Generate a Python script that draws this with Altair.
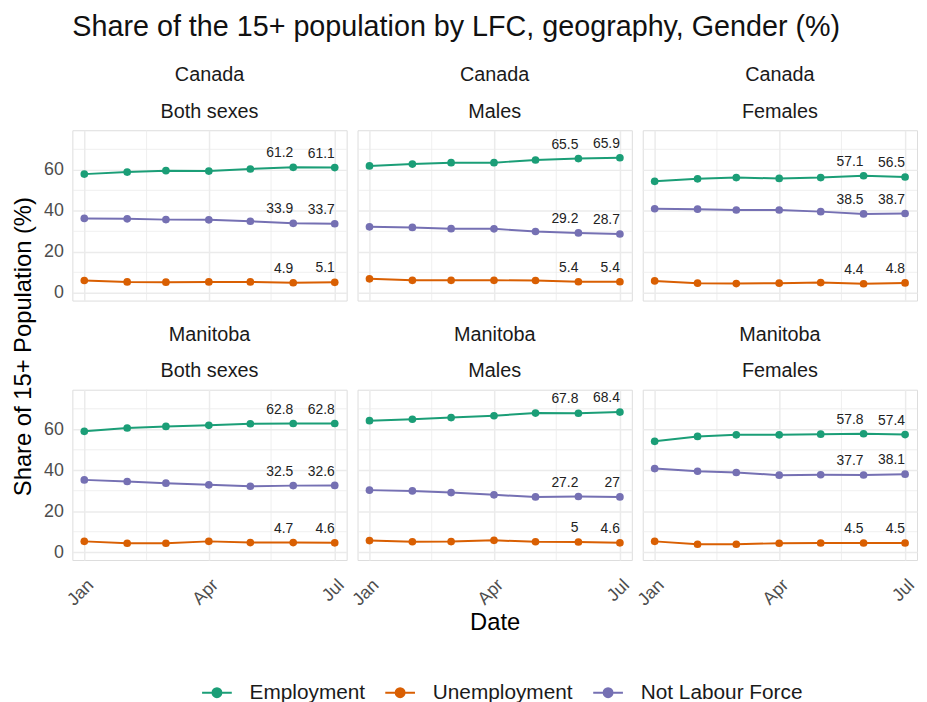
import altair as alt
import pandas as pd

# ---------------- data ----------------
months = ["2023-01-01", "2023-02-01", "2023-03-01", "2023-04-01",
          "2023-05-01", "2023-06-01", "2023-07-01"]
geos = ["Canada", "Manitoba"]
genders = ["Both sexes", "Males", "Females"]
series = ["Employment", "Unemployment", "Not Labour Force"]
series_colors = ["#1B9E77", "#D95F02", "#7570B3"]

canada_both_emp = [57.9, 58.9, 59.6, 59.4, 60.4, 61.2, 61.1]
canada_both_unemp = [6.0, 5.3, 5.2, 5.3, 5.3, 4.9, 5.1]
canada_both_nlf = [36.3, 36.1, 35.7, 35.6, 34.9, 33.9, 33.7]

canada_males_emp = [61.9, 62.8, 63.5, 63.5, 64.8, 65.5, 65.9]
canada_males_unemp = [6.8, 6.1, 6.1, 6.1, 6.0, 5.4, 5.4]
canada_males_nlf = [32.2, 31.9, 31.3, 31.2, 29.9, 29.2, 28.7]

canada_females_emp = [54.4, 55.6, 56.2, 55.8, 56.2, 57.1, 56.5]
canada_females_unemp = [5.8, 4.7, 4.5, 4.7, 5.0, 4.4, 4.8]
canada_females_nlf = [41.0, 40.8, 40.4, 40.4, 39.6, 38.5, 38.7]

manitoba_both_emp = [59.0, 60.6, 61.4, 61.9, 62.7, 62.8, 62.8]
manitoba_both_unemp = [5.3, 4.4, 4.4, 5.3, 4.7, 4.7, 4.6]
manitoba_both_nlf = [35.3, 34.5, 33.7, 32.9, 32.2, 32.5, 32.6]

manitoba_males_emp = [64.2, 64.9, 65.7, 66.6, 67.9, 67.8, 68.4]
manitoba_males_unemp = [5.7, 5.1, 5.2, 5.8, 5.1, 5.0, 4.6]
manitoba_males_nlf = [30.3, 29.9, 29.1, 28.0, 27.0, 27.2, 27.0]

manitoba_females_emp = [54.1, 56.5, 57.3, 57.3, 57.6, 57.8, 57.4]
manitoba_females_unemp = [5.3, 3.9, 3.9, 4.4, 4.5, 4.5, 4.5]
manitoba_females_nlf = [40.8, 39.5, 38.9, 37.6, 37.8, 37.7, 38.1]

labelled_months = ["2023-06-01", "2023-07-01"]

# axis breaks
y_major = [0, 20, 40, 60]
y_minor = [10, 30, 50, 70]
x_minor = ["2023-02-15", "2023-05-16"]

# ---------------- table ----------------
values = {
    ("Canada", "Both sexes"): [canada_both_emp, canada_both_unemp, canada_both_nlf],
    ("Canada", "Males"): [canada_males_emp, canada_males_unemp, canada_males_nlf],
    ("Canada", "Females"): [canada_females_emp, canada_females_unemp, canada_females_nlf],
    ("Manitoba", "Both sexes"): [manitoba_both_emp, manitoba_both_unemp, manitoba_both_nlf],
    ("Manitoba", "Males"): [manitoba_males_emp, manitoba_males_unemp, manitoba_males_nlf],
    ("Manitoba", "Females"): [manitoba_females_emp, manitoba_females_unemp, manitoba_females_nlf],
}


def fmt(v):
    s = f"{v:.1f}"
    return s[:-2] if s.endswith(".0") else s


rows = []
for (g, s), lists in values.items():
    for name, vals in zip(series, lists):
        for m, v in zip(months, vals):
            rows.append({"geo": g, "gender": s, "series": name, "date": m,
                         "value": v, "label": fmt(v) if m in labelled_months else ""})
df = pd.DataFrame(rows)
ymin_df = pd.DataFrame({"value": y_minor})
xmin_df = pd.DataFrame({"date": x_minor})

FONT = "Liberation Sans"
GRID = "#EBEBEB"
PW, PH = 277, 172

xscale = alt.Scale(type="utc",
                   domain=[alt.DateTime(year=2022, month=12, date=23, hours=9, utc=True),
                           alt.DateTime(year=2023, month=7, date=9, hours=15, utc=True)])
yscale = alt.Scale(domain=[-3.8, 79.3], nice=False, zero=False)
x_ticks = [alt.DateTime(year=2023, month=mo, date=1, utc=True) for mo in (1, 4, 7)]

color = alt.Color(
    "series:N",
    scale=alt.Scale(domain=series, range=series_colors),
    legend=alt.Legend(
        title=None, orient="none", direction="horizontal",
        legendX=130, legendY=552,
        symbolType="M-1,0L1,0M-0.3,0A0.3,0.3,0,1,1,0.3,0A0.3,0.3,0,1,1,-0.3,0Z",
        symbolSize=900, symbolStrokeWidth=2,
        labelFont=FONT, labelFontSize=21, labelColor="#1A1A1A", labelLimit=400,
        labelOffset=17, columnPadding=16,
    ),
)


def panel(geo, gender, r, c):
    if r == 0:
        xaxis = alt.Axis(values=x_ticks, labels=False, ticks=False, domain=False,
                         grid=True, gridColor=GRID, gridWidth=1.5, title=None)
    else:
        xaxis = alt.Axis(values=x_ticks, format="%b", labelAngle=315,
                         labelFont=FONT, labelFontSize=18, labelColor="#4D4D4D",
                         labelPadding=16, ticks=False, domain=False,
                         grid=True, gridColor=GRID, gridWidth=1.5,
                         title="Date" if c == 1 else None,
                         titleFont=FONT, titleFontSize=24, titleFontWeight="normal",
                         titleColor="#000000", titleY=70, titleBaseline="alphabetic")
    if c == 0:
        yaxis = alt.Axis(values=y_major, labelFont=FONT, labelFontSize=18,
                         labelColor="#4D4D4D", labelPadding=9, ticks=False,
                         domain=False, grid=True, gridColor=GRID, gridWidth=1.5,
                         title="Share of 15+ Population (%)" if r == 0 else None,
                         titleFont=FONT, titleFontSize=24, titleFontWeight="normal",
                         titleColor="#000000", titleY=218, titleX=-42,
                         titleBaseline="alphabetic", titleAlign="center")
    else:
        yaxis = alt.Axis(values=y_major, labels=False, ticks=False, domain=False,
                         grid=True, gridColor=GRID, gridWidth=1.5, title=None)

    x = alt.X("date:T", scale=xscale, axis=xaxis)
    y = alt.Y("value:Q", scale=yscale, axis=yaxis)

    base = alt.Chart(df).transform_filter(
        (alt.datum.geo == geo) & (alt.datum.gender == gender))

    ygrid = alt.Chart(ymin_df).mark_rule(color=GRID, strokeWidth=0.8).encode(y=y)
    xgrid = alt.Chart(xmin_df).mark_rule(color=GRID, strokeWidth=0.8).encode(x=x)

    line = base.mark_line(strokeWidth=2).encode(x=x, y=y, color=color)
    pts = base.mark_point(filled=True, size=60, opacity=1).encode(
        x=x, y=y, color=color)
    txt = base.transform_filter(alt.datum.label != "").mark_text(
        align="right", baseline="alphabetic", dy=-10, font=FONT, fontSize=14,
        color="#222222").encode(x=x, y=y, text="label:N")

    return alt.layer(ygrid, xgrid, line, pts, txt).properties(
        width=PW, height=PH,
        title=alt.TitleParams([geo, gender], font=FONT, fontSize=20,
                              fontWeight="normal", color="#1A1A1A",
                              lineHeight=37, anchor="middle", offset=8),
    )


panels = [panel(g, s, r, c) for r, g in enumerate(geos) for c, s in enumerate(genders)]

chart = alt.concat(*panels, columns=3, spacing=alt.RowColnumber(row=90, column=11),
                   bounds="flush").properties(
    title=alt.TitleParams("Share of the 15+ population by LFC, geography, Gender (%)",
                          font=FONT, fontSize=29, fontWeight="normal",
                          color="#111111", anchor="start", frame="group", offset=23),
    padding={"left": 3, "top": 2, "right": 0, "bottom": 5},
).configure_view(strokeWidth=0).configure(font=FONT)

chart.save("out.html", embed_options={"renderer": "svg", "actions": False})
